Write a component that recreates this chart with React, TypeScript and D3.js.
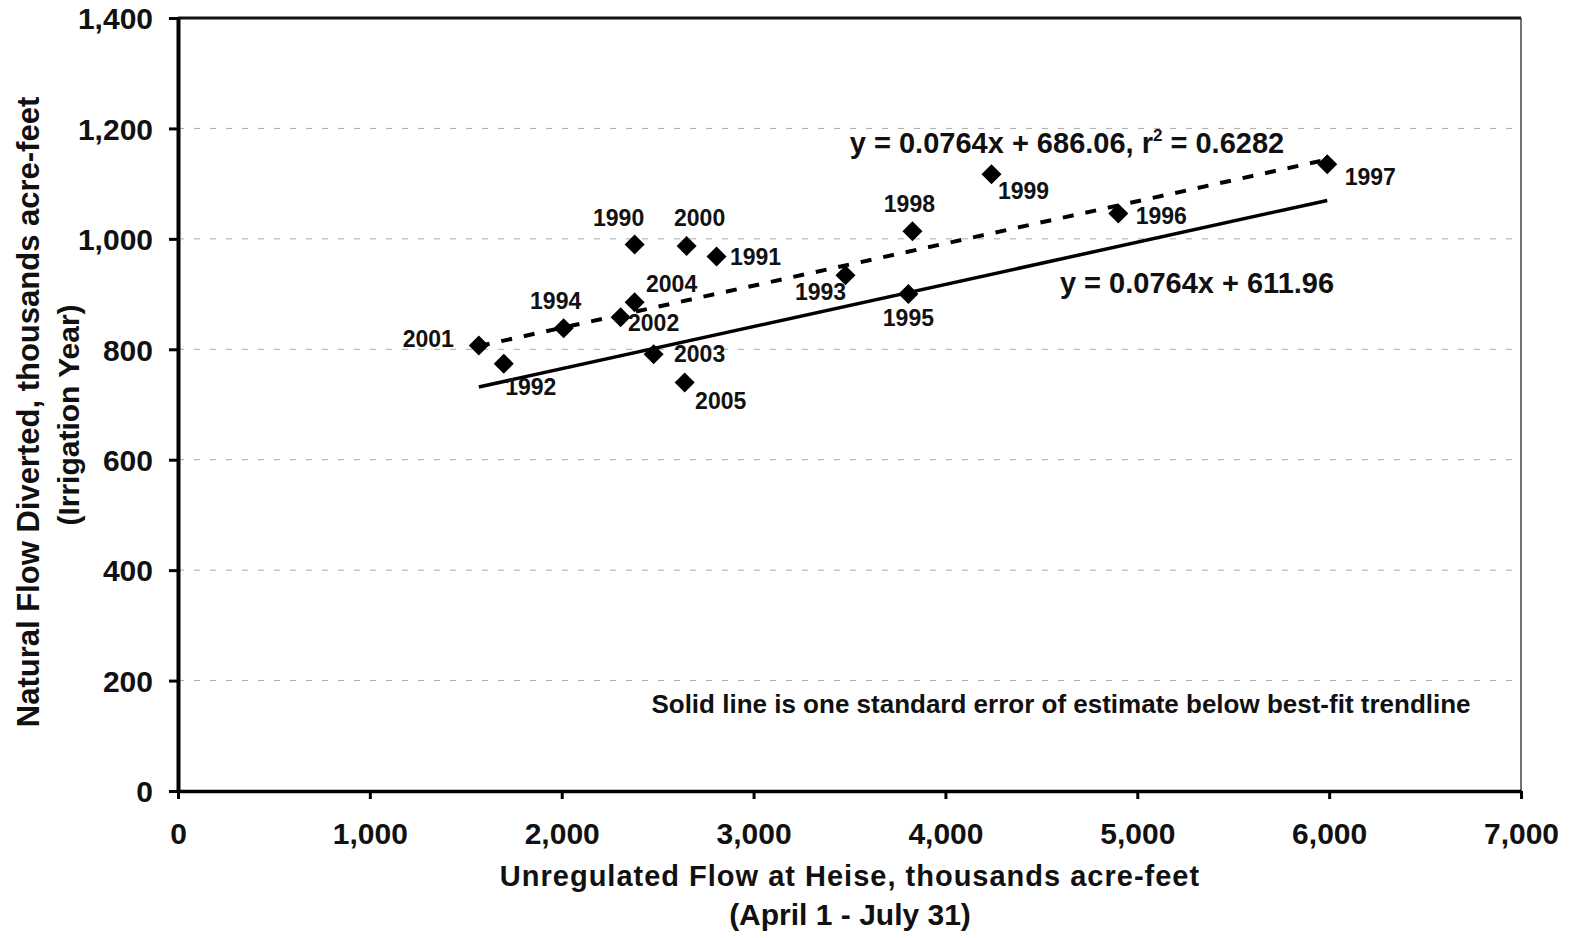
import React, { useRef, useEffect } from 'react';
import * as d3 from 'd3';

// years, x = unregulated flow at Heise, y = natural flow diverted (thousands acre-feet)
const years = ['2001', '1992', '1994', '2002', '2004', '1990', '2003', '2005', '2000', '1991', '1993', '1995', '1998', '1999', '1996', '1997'];
const heiseFlow = [1568, 1698, 2010, 2307, 2380, 2380, 2479, 2641, 2651, 2807, 3479, 3807, 3828, 4240, 4901, 5990];
const diverted = [807, 774, 838, 858, 885, 990, 791, 740, 987, 968, 934, 900, 1014, 1117, 1046, 1135];

const slope = 0.0764;
const fitIntercept = 686.06;
const lowerIntercept = 611.96;

const xTicks = [0, 1000, 2000, 3000, 4000, 5000, 6000, 7000];
const yTicks = [0, 200, 400, 600, 800, 1000, 1200, 1400];

// label placement around each marker (pixels)
const labelOffset = {
  '2001': [-25, 2, 'end'], '1992': [27, 31, 'middle'], '1994': [-8, -19, 'middle'], '2002': [33, 14, 'middle'],
  '2004': [37, -10, 'middle'], '1990': [-16, -18, 'middle'], '2003': [46, 8, 'middle'], '2005': [36, 27, 'middle'],
  '2000': [13, -20, 'middle'], '1991': [39, 8, 'middle'], '1993': [-25, 25, 'middle'], '1995': [0, 32, 'middle'],
  '1998': [-3, -19, 'middle'], '1999': [32, 25, 'middle'], '1996': [43, 11, 'middle'], '1997': [43, 21, 'middle'],
};

const App = () => {
  const svgRef = useRef(null);

  useEffect(() => {
    const svgWidth = 1571;
    const svgHeight = 938;
    const margin = { top: 18, right: 50, bottom: 148, left: 178 };
    const width = 1521 - margin.left;
    const height = 791 - margin.top;
    const font = "'Liberation Sans', Arial, sans-serif";

    const svg = d3.select(svgRef.current)
      .attr('width', svgWidth)
      .attr('height', svgHeight)
      .style('font-family', font)
      .style('font-weight', 'bold');
    svg.selectAll('*').remove();

    const g = svg.append('g').attr('transform', `translate(${margin.left},${margin.top})`);

    const xScale = d3.scaleLinear().domain([0, 7000]).range([0, width]);
    const yScale = d3.scaleLinear().domain([0, 1400]).range([height, 0]);

    // gridlines
    g.selectAll('.grid')
      .data(yTicks.filter((d) => d > 0 && d < 1400))
      .enter()
      .append('line')
      .attr('x1', 0)
      .attr('x2', width)
      .attr('y1', (d) => yScale(d))
      .attr('y2', (d) => yScale(d))
      .attr('stroke', '#aaa')
      .attr('stroke-width', 1)
      .attr('stroke-dasharray', '6,10');

    // frame top / right
    g.append('line').attr('x1', 0).attr('x2', width).attr('y1', 0).attr('y2', 0)
      .attr('stroke', '#111').attr('stroke-width', 3);
    g.append('line').attr('x1', width).attr('x2', width).attr('y1', 0).attr('y2', height)
      .attr('stroke', '#444').attr('stroke-width', 1.5);

    const xAxis = g.append('g')
      .attr('transform', `translate(0,${height})`)
      .call(d3.axisBottom(xScale).tickValues(xTicks).tickSize(8).tickSizeOuter(0).tickFormat(d3.format(',')));
    xAxis.select('.domain').attr('stroke-width', 3.5).attr('stroke', '#000');
    xAxis.selectAll('.tick line').attr('stroke-width', 3);
    xAxis.selectAll('.tick text')
      .attr('dy', 0)
      .attr('y', 53)
      .style('font-size', '30px')
      .style('font-family', font)
      .style('font-weight', 'bold')
      .attr('fill', '#111');

    const yAxis = g.append('g')
      .call(d3.axisLeft(yScale).tickValues(yTicks).tickSize(9).tickSizeOuter(0).tickFormat(d3.format(',')));
    yAxis.select('.domain').attr('stroke-width', 4).attr('stroke', '#000');
    yAxis.selectAll('.tick line').attr('stroke-width', 3);
    yAxis.selectAll('.tick text')
      .attr('x', -25)
      .attr('dy', '0.36em')
      .style('font-size', '30px')
      .style('font-family', font)
      .style('font-weight', 'bold')
      .attr('fill', '#111');

    const points = years.map((year, i) => ({ year, x: heiseFlow[i], y: diverted[i] }));
    const xExtent = d3.extent(heiseFlow);

    const line = d3.line()
      .x((d) => xScale(d[0]))
      .y((d) => yScale(d[1]));

    const fitData = xExtent.map((x) => [x, slope * x + fitIntercept]);
    const lowerData = xExtent.map((x) => [x, slope * x + lowerIntercept]);

    g.append('path')
      .datum(lowerData)
      .attr('fill', 'none')
      .attr('stroke', '#000')
      .attr('stroke-width', 3.5)
      .attr('d', line);

    g.append('path')
      .datum(fitData)
      .attr('fill', 'none')
      .attr('stroke', '#000')
      .attr('stroke-width', 4)
      .attr('stroke-dasharray', '11,12')
      .attr('d', line);

    const diamond = d3.symbol().type(d3.symbolSquare).size(200);
    g.selectAll('.pt')
      .data(points)
      .enter()
      .append('path')
      .attr('d', diamond)
      .attr('transform', (d) => `translate(${xScale(d.x)},${yScale(d.y)}) rotate(45)`)
      .attr('fill', '#000');

    g.selectAll('.lbl')
      .data(points)
      .enter()
      .append('text')
      .attr('x', (d) => xScale(d.x) + labelOffset[d.year][0])
      .attr('y', (d) => yScale(d.y) + labelOffset[d.year][1])
      .attr('text-anchor', (d) => labelOffset[d.year][2])
      .style('font-size', '23px')
      .attr('fill', '#111')
      .text((d) => d.year);

    // equations and note
    const eq1 = svg.append('text')
      .attr('x', 1067)
      .attr('y', 153)
      .attr('text-anchor', 'middle')
      .style('font-size', '29px')
      .attr('fill', '#111');
    eq1.append('tspan').text(`y = ${slope}x + ${fitIntercept.toFixed(2)}, r`);
    eq1.append('tspan').attr('dy', -12).style('font-size', '17px').text('2');
    eq1.append('tspan').attr('dy', 12).text(' = 0.6282');

    svg.append('text')
      .attr('x', 1197)
      .attr('y', 293)
      .attr('text-anchor', 'middle')
      .style('font-size', '29px')
      .attr('fill', '#111')
      .text(`y = ${slope}x + ${lowerIntercept.toFixed(2)}`);

    svg.append('text')
      .attr('x', 1061)
      .attr('y', 713)
      .attr('text-anchor', 'middle')
      .style('font-size', '26px')
      .attr('fill', '#111')
      .text('Solid line is one standard error of estimate below best-fit trendline');

    // axis titles
    svg.append('text')
      .attr('x', 850)
      .attr('y', 886)
      .attr('text-anchor', 'middle')
      .style('font-size', '29px')
      .style('letter-spacing', '1px')
      .attr('fill', '#111')
      .text('Unregulated Flow at Heise, thousands acre-feet');

    svg.append('text')
      .attr('x', 850)
      .attr('y', 925)
      .attr('text-anchor', 'middle')
      .style('font-size', '30px')
      .attr('fill', '#111')
      .text('(April 1 - July 31)');

    const yTitle = svg.append('g').attr('transform', 'translate(0,412) rotate(-90)');
    yTitle.append('text')
      .attr('x', 0)
      .attr('y', 39)
      .attr('text-anchor', 'middle')
      .style('font-size', '31px')
      .attr('fill', '#111')
      .text('Natural Flow Diverted, thousands acre-feet');
    yTitle.append('text')
      .attr('x', -3)
      .attr('y', 79)
      .attr('text-anchor', 'middle')
      .style('font-size', '30px')
      .attr('fill', '#111')
      .text('(Irrigation Year)');
  }, []);

  return (
    <div>
      <svg ref={svgRef} style={{ position: 'absolute', left: 0, top: 0, background: '#fff' }} />
    </div>
  );
};

export default App;
